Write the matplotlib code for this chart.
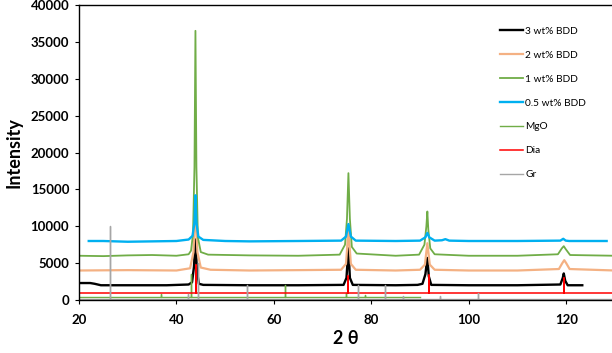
import numpy as np
import matplotlib
matplotlib.use("Agg")
import matplotlib.pyplot as plt

plt.rcParams['font.family'] = ['Lato', 'DejaVu Sans']
plt.rcParams['font.weight'] = 'bold'

# ---- measured patterns (2 theta, intensity) ----
bdd3_x = [20, 22.3, 23.2, 24.5, 30, 38, 42.5, 43.2, 43.6, 43.9, 44.2, 44.6, 45.5, 55, 65,
          74.3, 74.9, 75.3, 75.6, 76.2, 85, 89.5, 90.5, 91.1, 91.5, 91.8, 92.3, 100, 110,
          118.8, 119.3, 119.5, 119.8, 120.3, 123.3]
bdd3_y = [2300, 2300, 2200, 2000, 2000, 2000, 2100, 2400, 4500, 8200, 4000, 2200, 2050, 2000, 2000,
          2050, 3000, 7000, 3000, 2050, 2000, 2050, 2200, 3500, 5700, 3200, 2050, 2000, 2000,
          2100, 3000, 3600, 2600, 2000, 2000]

bdd2_x = [20, 30, 40, 42.8, 43.5, 43.9, 44.3, 45, 47, 55, 65, 73.8, 74.8, 75.3, 75.8, 76.8,
          85, 90, 91, 91.5, 92, 93, 100, 110, 118.5, 119.2, 119.6, 120, 120.7, 130]
bdd2_y = [4000, 4050, 4000, 4300, 6500, 13000, 6500, 4400, 4100, 4000, 4050, 4100, 4900, 9500, 4900, 4100,
          4000, 4100, 4800, 7700, 4800, 4100, 4000, 4000, 4200, 5000, 5400, 5000, 4200, 4000]

bdd1_x = [20, 25, 30, 35, 40, 42.5, 43.0, 43.4, 43.7, 43.9, 44.1, 44.4, 45, 46.5, 55, 65,
          73.5, 74.6, 75.0, 75.3, 75.6, 76, 77, 85, 89.8, 90.9, 91.3, 91.5, 91.7, 92.1, 93,
          100, 110, 118.3, 119.1, 119.5, 119.9, 120.8, 130]
bdd1_y = [6000, 5950, 6050, 6100, 6000, 6200, 6700, 9000, 18000, 36500, 18000, 8500, 6500, 6150, 6050, 6000,
          6150, 7500, 11000, 17200, 11000, 7200, 6300, 6000, 6150, 7500, 10000, 12000, 9500, 7000, 6200,
          6000, 6000, 6200, 7000, 7300, 6900, 6100, 6000]

bdd05_x = [22, 25, 30, 35, 40, 42.5, 43.3, 43.7, 43.9, 44.1, 44.5, 45.5, 50, 55, 65,
           73.8, 74.8, 75.3, 75.8, 76.8, 85, 90, 91.1, 91.5, 91.9, 93, 94.5, 95.2, 96,
           100, 110, 118.8, 119.4, 119.9, 120.6, 128.3]
bdd05_y = [8000, 8000, 7900, 7950, 8000, 8200, 8700, 10500, 14200, 10500, 8600, 8150, 8000, 7950, 8000,
           8050, 8600, 10300, 8600, 8050, 8000, 8050, 8500, 9100, 8500, 8050, 8100, 8250, 8050,
           8000, 8000, 8050, 8300, 8050, 8000, 8000]

# reference stick patterns
mgo_pos = [36.9, 42.9, 62.3, 74.7, 78.6]
mgo_int = [800, 3500, 2000, 900, 700]
mgo_range = (20, 90)
mgo_base = 450

dia_pos = [44.0, 75.2, 91.9, 119.6]
dia_int = [4700, 3300, 3400, 3000]
dia_range = (20, 130)
dia_base = 900

gr_pos = [26.4, 42.4, 44.5, 54.5, 77.3, 82.9, 86.4, 94.0, 101.8]
gr_int = [10000, 800, 5000, 2000, 2000, 2000, 500, 600, 900]
gr_range = (20, 130)
gr_base = 150


def sticks(pos, inten, rng, base):
    xs = [rng[0]]
    ys = [base]
    for p, v in zip(pos, inten):
        xs += [p, p, p]
        ys += [base, v, base]
    xs.append(rng[1])
    ys.append(base)
    return xs, ys


fig = plt.figure(figsize=(6.12, 3.53), dpi=100)
ax = fig.add_axes([79 / 612, 1 - 300 / 353, 1 - 79 / 612, 295 / 353])

ax.plot(bdd3_x, bdd3_y, color='black', lw=1.7, label='3 wt% BDD')
ax.plot(bdd2_x, bdd2_y, color='#F4B183', lw=1.6, label='2 wt% BDD')
ax.plot(bdd1_x, bdd1_y, color='#70AD47', lw=1.3, label='1 wt% BDD')
ax.plot(bdd05_x, bdd05_y, color='#00B0F0', lw=1.7, label='0.5 wt% BDD')

x, y = sticks(mgo_pos, mgo_int, mgo_range, mgo_base)
ax.plot(x, y, color='#70AD47', lw=1.0, label='MgO')
x, y = sticks(dia_pos, dia_int, dia_range, dia_base)
ax.plot(x, y, color='#FF0000', lw=1.1, label='Dia')
x, y = sticks(gr_pos, gr_int, gr_range, gr_base)
ax.plot(x, y, color='#A6A6A6', lw=1.0, label='Gr')

ax.set_xlim(20, 129.4)
ax.set_ylim(0, 40000)
ax.set_xticks([20, 40, 60, 80, 100, 120])
ax.set_yticks(range(0, 40001, 5000))
ax.tick_params(axis='both', direction='out', length=3, width=0.8, labelsize=9.5, pad=4)
ax.tick_params(axis='x', pad=7)
for lab in ax.get_xticklabels() + ax.get_yticklabels():
    lab.set_fontweight('bold')
ax.spines['right'].set_visible(False)
for s in ['left', 'top', 'bottom']:
    ax.spines[s].set_linewidth(1.0)

ax.set_ylabel('Intensity', fontsize=13, fontweight='bold', labelpad=6)
ax.set_xlabel('2 θ', fontsize=13, fontweight='bold', labelpad=3)

leg = ax.legend(loc='upper left', bbox_to_anchor=(0.782, 0.94), frameon=False,
                fontsize=7.3, handlelength=2.3, handletextpad=0.2, labelspacing=1.46,
                borderaxespad=0)
for t in leg.get_texts():
    t.set_fontweight('normal')

fig.savefig('out.png', dpi=100)
